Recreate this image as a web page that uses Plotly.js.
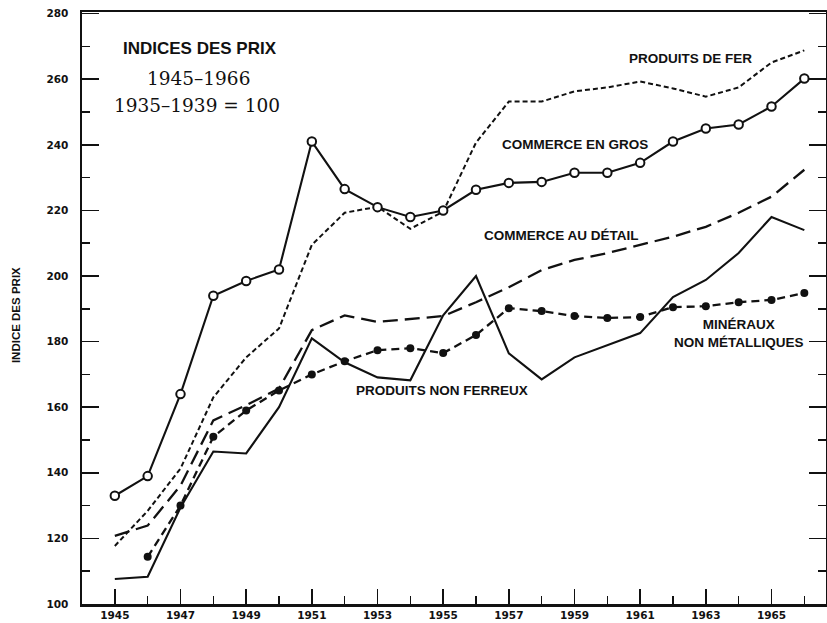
<!DOCTYPE html>
<html>
<head>
<meta charset="utf-8">
<script src="https://cdn.plot.ly/plotly-3.0.1.min.js"></script>
<style>html,body{margin:0;padding:0;background:#fff}#chart{width:827px;height:623px}</style>
</head>
<body>
<div id="chart"></div>
<script>
const years = [1945,1946,1947,1948,1949,1950,1951,1952,1953,1954,1955,1956,1957,1958,1959,1960,1961,1962,1963,1964,1965,1966];
const commerceEnGros = [133,139,164,194,198.5,202,241,226.5,221,218,220,226.3,228.4,228.7,231.5,231.5,234.5,241,245,246.2,251.7,260.2];
const produitsDeFer = [117.7,128.4,141.3,163,175.2,184,209.5,219.3,221.1,214.4,219.6,240.7,253.2,253.2,256.3,257.5,259.3,257.2,254.7,257.5,265.1,268.8];
const commerceAuDetail = [120.8,123.9,136.1,156,160.6,165.7,183.5,188,186,187,187.8,192,196.6,201.8,204.9,207,209.5,212,215,219.3,224.2,232.4];
const produitsNonFerreux = [107.6,108.3,129.4,146.5,145.9,160,181,173.7,169.1,168.2,188,200,176.4,168.5,175.2,178.9,182.6,193.6,198.8,207,218,214];
const minerauxYears = [1946,1947,1948,1949,1950,1951,1952,1953,1954,1955,1956,1957,1958,1959,1960,1961,1962,1963,1964,1965,1966];
const minerauxNonMetalliques = [114.4,130,151,159,165.1,170,174,177.4,178,176.5,182,190.2,189.3,187.8,187.2,187.5,190.5,190.8,192,192.7,194.8];
const yTicks = [100,120,140,160,180,200,220,240,260,280];
const xTicks = [1945,1947,1949,1951,1953,1955,1957,1959,1961,1963,1965];

const black = '#111';
const traces = [
  {x: years, y: produitsNonFerreux, mode: 'lines', line: {color: black, width: 2.1}},
  {x: years, y: commerceAuDetail, mode: 'lines', line: {color: black, width: 2.3, dash: '15px,7px'}},
  {x: years, y: produitsDeFer, mode: 'lines', line: {color: black, width: 2, dash: '5px,3px'}},
  {x: minerauxYears, y: minerauxNonMetalliques, mode: 'lines+markers', line: {color: black, width: 2.3, dash: '8px,5px'},
   marker: {symbol: 'circle', size: 8, color: black}},
  {x: years, y: commerceEnGros, mode: 'lines+markers', line: {color: black, width: 2.1},
   marker: {symbol: 'circle', size: 8.5, color: '#fff', line: {color: black, width: 2}}}
];

const lab = {family: 'Liberation Sans, Arial, sans-serif', size: 13.5, color: black, weight: 'bold'};
const annotations = [
  {x: 1947.6, y: 269.5, text: 'INDICES DES PRIX', font: {family: 'Liberation Sans, Arial, sans-serif', size: 17, color: black, weight: 'bold'}},
  {x: 1947.55, y: 260.2, text: '1945–1966', font: {family: 'DejaVu Serif, serif', size: 18.5, color: black}},
  {x: 1947.5, y: 252, text: '1935–1939 = 100', font: {family: 'DejaVu Serif, serif', size: 18.5, color: black}},
  {x: 1962.52, y: 266.4, text: 'PRODUITS DE FER', font: lab},
  {x: 1959.02, y: 240, text: 'COMMERCE EN GROS', font: lab},
  {x: 1958.6, y: 212.5, text: 'COMMERCE AU DÉTAIL', font: lab},
  {x: 1954.97, y: 165, text: 'PRODUITS NON FERREUX', font: lab},
  {x: 1964.0, y: 182.5, text: 'MINÉRAUX<br>NON MÉTALLIQUES', font: lab},
  {xref: 'paper', yref: 'paper', x: -0.0887, y: 0.488, text: 'INDICE DES PRIX', textangle: -90,
   font: {family: 'Liberation Sans, Arial, sans-serif', size: 11.5, color: black, weight: 'bold'}}
].map(a => Object.assign({showarrow: false, xanchor: 'center', yanchor: 'middle'}, a));

const layout = {
  width: 827, height: 623,
  margin: {l: 82, r: 1, t: 12, b: 19},
  paper_bgcolor: '#fff', plot_bgcolor: '#fff',
  showlegend: false,
  xaxis: {
    range: [1944, 1966.66], tickmode: 'array', tickvals: xTicks, ticktext: xTicks.map(String),
    ticks: 'inside', ticklen: 15, tickwidth: 1.5, tickcolor: black,
    minor: {ticks: 'inside', dtick: 1, tick0: 1944, ticklen: 8, tickwidth: 1.5, tickcolor: black},
    showline: true, linecolor: black, linewidth: 2.5, mirror: true,
    showgrid: false, zeroline: false,
    tickfont: {family: 'DejaVu Sans, sans-serif', size: 10.5, color: black, weight: 'bold'}
  },
  yaxis: {
    range: [100, 280.5], tickmode: 'array', tickvals: yTicks, ticktext: yTicks.map(String),
    ticks: 'inside', ticklen: 17, tickwidth: 1.5, tickcolor: black,
    minor: {ticks: 'inside', dtick: 10, tick0: 100, ticklen: 8, tickwidth: 1.5, tickcolor: black},
    showline: true, linecolor: black, linewidth: 2.5, mirror: 'ticks',
    showgrid: false, zeroline: false, ticklabelstandoff: 9,
    tickfont: {family: 'DejaVu Sans, sans-serif', size: 10.5, color: black, weight: 'bold'}
  },
  annotations: annotations
};

Plotly.newPlot('chart', traces, layout, {staticPlot: true, displayModeBar: false});
</script>
</body>
</html>
